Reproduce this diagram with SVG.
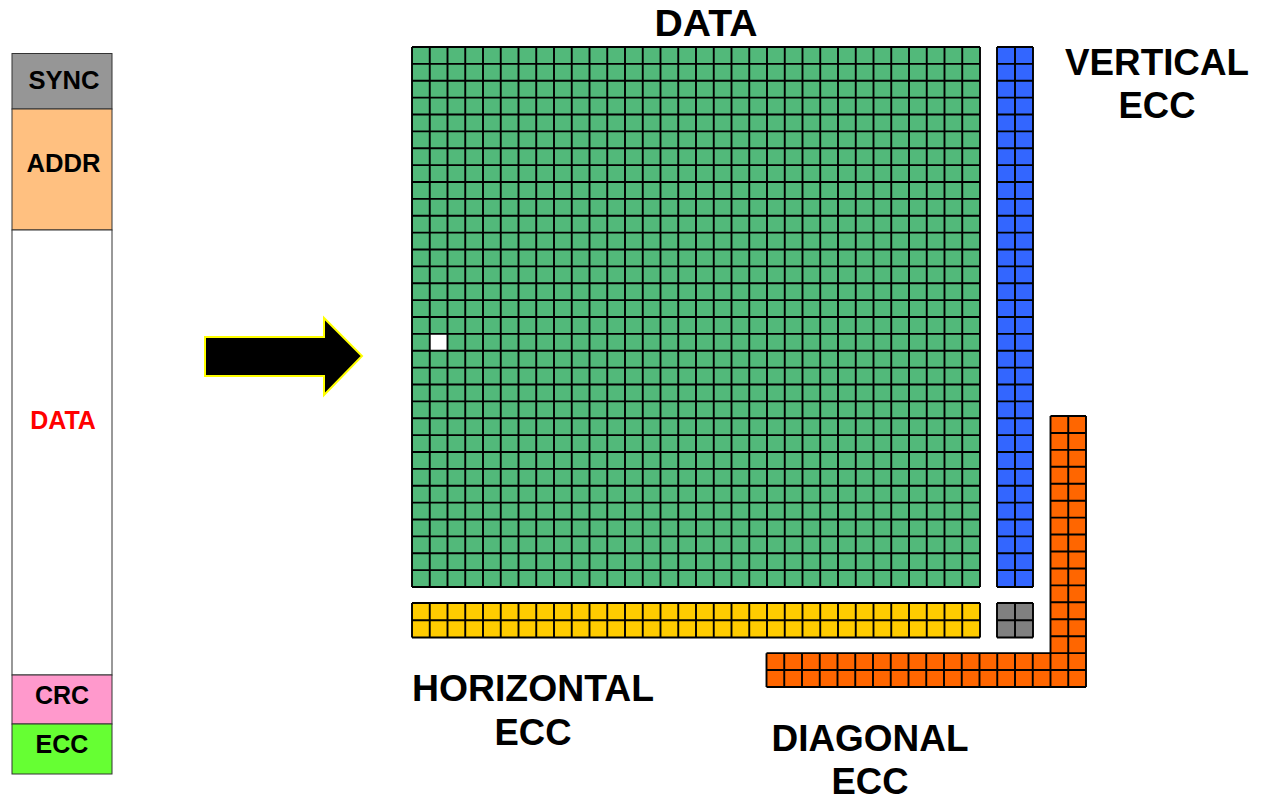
<svg xmlns="http://www.w3.org/2000/svg" width="1262" height="800" viewBox="0 0 1262 800">
<style>
.lbl{font-family:"Liberation Sans",Arial,sans-serif;font-weight:bold;font-size:37px;fill:#000;text-anchor:middle}
.sl{font-family:"Liberation Sans",Arial,sans-serif;font-weight:bold;font-size:25px;fill:#000;text-anchor:middle}
.seg{stroke:#333;stroke-width:1}
.grid{fill:none;stroke:#000;stroke-width:1.9}
</style>
<rect width="1262" height="800" fill="#fff"/>
<g id="frame-bar">
  <g id="sync"><rect class="seg" x="12" y="53.5" width="100" height="55.5" fill="#969696"/><text class="sl" x="64" y="89" textLength="71" lengthAdjust="spacingAndGlyphs">SYNC</text></g>
  <g id="addr"><rect class="seg" x="12" y="109" width="100" height="121" fill="#FFC080"/><text class="sl" x="63.5" y="171.5" textLength="74" lengthAdjust="spacingAndGlyphs">ADDR</text></g>
  <g id="data-seg"><rect class="seg" x="12" y="230" width="100" height="445" fill="#fff"/><text class="sl" x="63" y="429" style="fill:#FF0000">DATA</text></g>
  <g id="crc"><rect class="seg" x="12" y="675" width="100" height="49" fill="#FF99CC"/><text class="sl" x="62" y="704">CRC</text></g>
  <g id="ecc"><rect class="seg" x="12" y="724" width="100" height="50" fill="#66FF33"/><text class="sl" x="62" y="753">ECC</text></g>
</g>
<g id="connectors">
  <polygon id="arrow" points="205,337 324,337 324,318 362,356 324,395 324,376 205,376" fill="#000" stroke="#FFFF00" stroke-width="2"/>
</g>
<g id="data-grid">
  <rect x="412" y="47" width="568" height="540" fill="#52B97A"/>
  <rect x="430" y="333.9" width="17.75" height="16.9" fill="#fff"/>
  <path class="grid" d="M412 47V587M429.75 47V587M447.5 47V587M465.25 47V587M483 47V587M500.75 47V587M518.5 47V587M536.25 47V587M554 47V587M571.75 47V587M589.5 47V587M607.25 47V587M625 47V587M642.75 47V587M660.5 47V587M678.25 47V587M696 47V587M713.75 47V587M731.5 47V587M749.25 47V587M767 47V587M784.75 47V587M802.5 47V587M820.25 47V587M838 47V587M855.75 47V587M873.5 47V587M891.25 47V587M909 47V587M926.75 47V587M944.5 47V587M962.25 47V587M980 47V587
M412 47H980M412 63.875H980M412 80.75H980M412 97.625H980M412 114.5H980M412 131.375H980M412 148.25H980M412 165.125H980M412 182H980M412 198.875H980M412 215.75H980M412 232.625H980M412 249.5H980M412 266.375H980M412 283.25H980M412 300.125H980M412 317H980M412 333.875H980M412 350.75H980M412 367.625H980M412 384.5H980M412 401.375H980M412 418.25H980M412 435.125H980M412 452H980M412 468.875H980M412 485.75H980M412 502.625H980M412 519.5H980M412 536.375H980M412 553.25H980M412 570.125H980M412 587H980"/>
  <text class="lbl" x="706" y="36" textLength="103" lengthAdjust="spacingAndGlyphs">DATA</text>
</g>
<g id="vertical-ecc">
  <rect x="997" y="47" width="36" height="540" fill="#3366FF"/>
  <path class="grid" d="M997 47V587M1015 47V587M1033 47V587
M997 47H1033M997 63.875H1033M997 80.75H1033M997 97.625H1033M997 114.5H1033M997 131.375H1033M997 148.25H1033M997 165.125H1033M997 182H1033M997 198.875H1033M997 215.75H1033M997 232.625H1033M997 249.5H1033M997 266.375H1033M997 283.25H1033M997 300.125H1033M997 317H1033M997 333.875H1033M997 350.75H1033M997 367.625H1033M997 384.5H1033M997 401.375H1033M997 418.25H1033M997 435.125H1033M997 452H1033M997 468.875H1033M997 485.75H1033M997 502.625H1033M997 519.5H1033M997 536.375H1033M997 553.25H1033M997 570.125H1033M997 587H1033"/>
  <text class="lbl" x="1157" y="75" textLength="184" lengthAdjust="spacingAndGlyphs">VERTICAL</text>
  <text class="lbl" x="1157" y="118" textLength="77" lengthAdjust="spacingAndGlyphs">ECC</text>
</g>
<g id="horizontal-ecc">
  <rect x="412" y="603" width="568" height="34.5" fill="#FFCC00"/>
  <path class="grid" d="M412 603V637.5M429.75 603V637.5M447.5 603V637.5M465.25 603V637.5M483 603V637.5M500.75 603V637.5M518.5 603V637.5M536.25 603V637.5M554 603V637.5M571.75 603V637.5M589.5 603V637.5M607.25 603V637.5M625 603V637.5M642.75 603V637.5M660.5 603V637.5M678.25 603V637.5M696 603V637.5M713.75 603V637.5M731.5 603V637.5M749.25 603V637.5M767 603V637.5M784.75 603V637.5M802.5 603V637.5M820.25 603V637.5M838 603V637.5M855.75 603V637.5M873.5 603V637.5M891.25 603V637.5M909 603V637.5M926.75 603V637.5M944.5 603V637.5M962.25 603V637.5M980 603V637.5
M412 603H980M412 620.25H980M412 637.5H980"/>
  <text class="lbl" x="533" y="701" textLength="242" lengthAdjust="spacingAndGlyphs">HORIZONTAL</text>
  <text class="lbl" x="533" y="745" textLength="77" lengthAdjust="spacingAndGlyphs">ECC</text>
</g>
<g id="corner-ecc">
  <rect x="997" y="603" width="36" height="34.5" fill="#808080"/>
  <path class="grid" d="M997 603V637.5M1015 603V637.5M1033 603V637.5M997 603H1033M997 620.25H1033M997 637.5H1033"/>
</g>
<g id="diagonal-ecc">
  <path d="M1050.5 416H1086V687H766.5V653.13H1050.5Z" fill="#FF6600"/>
  <path class="grid" d="M1050.5 416V687M1068.25 416V687M1086 416V687
M1050.5 416H1086M1050.5 432.94H1086M1050.5 449.88H1086M1050.5 466.81H1086M1050.5 483.75H1086M1050.5 500.69H1086M1050.5 517.63H1086M1050.5 534.56H1086M1050.5 551.5H1086M1050.5 568.44H1086M1050.5 585.38H1086M1050.5 602.31H1086M1050.5 619.25H1086M1050.5 636.19H1086
M766.5 653.13H1086M766.5 670.06H1086M766.5 687H1086
M766.5 653.13V687M784.25 653.13V687M802 653.13V687M819.75 653.13V687M837.5 653.13V687M855.25 653.13V687M873 653.13V687M890.75 653.13V687M908.5 653.13V687M926.25 653.13V687M944 653.13V687M961.75 653.13V687M979.5 653.13V687M997.25 653.13V687M1015 653.13V687M1032.75 653.13V687"/>
  <text class="lbl" x="870" y="751" textLength="197" lengthAdjust="spacingAndGlyphs">DIAGONAL</text>
  <text class="lbl" x="870" y="794" textLength="77" lengthAdjust="spacingAndGlyphs">ECC</text>
</g>
</svg>
